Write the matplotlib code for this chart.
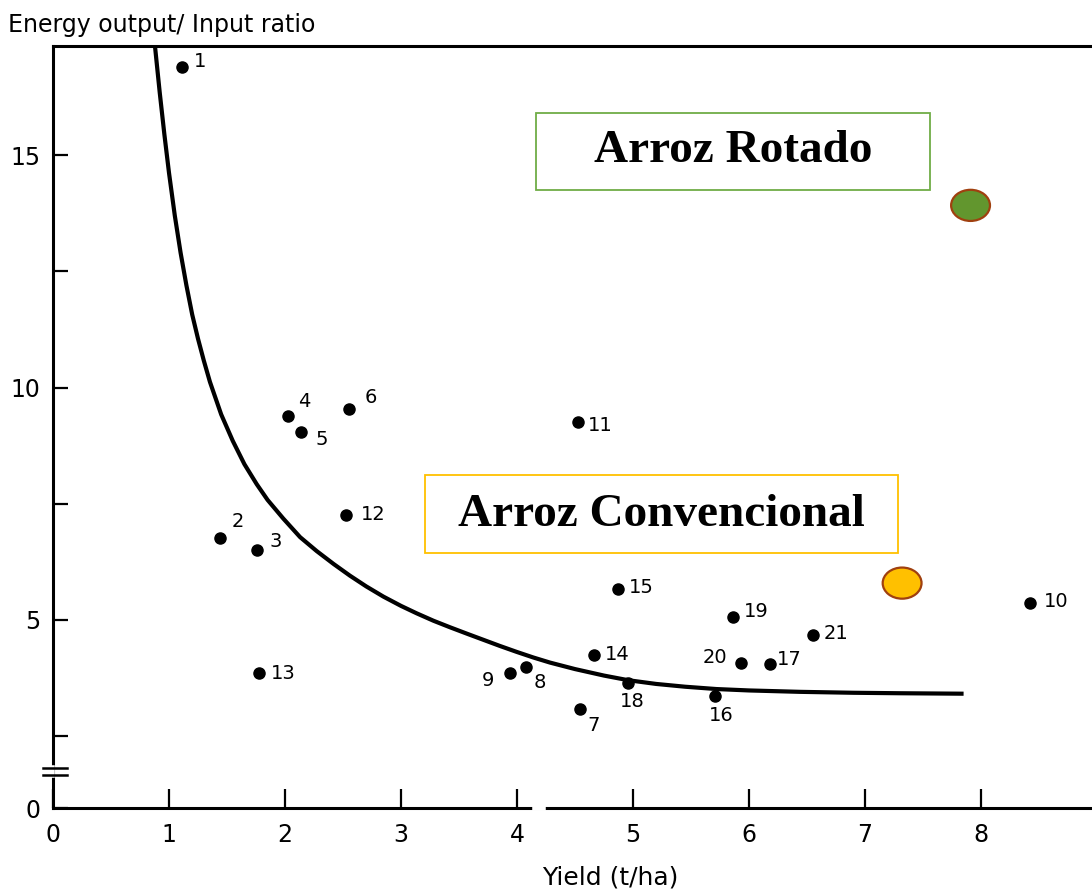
import matplotlib.pyplot as plt
from matplotlib import font_manager
from matplotlib.patches import Ellipse, Rectangle

# farms: yield (t/ha) vs energy output/input ratio
farm_ids = ['1', '2', '3', '4', '5', '6', '7', '8', '9', '10', '11',
            '12', '13', '14', '15', '16', '17', '18', '19', '20', '21']
yield_tha = [1.11, 1.44, 1.76, 2.03, 2.14, 2.55, 4.54, 4.08, 3.94, 8.42, 4.53,
             2.53, 1.78, 4.66, 4.87, 5.71, 6.18, 4.96, 5.86, 5.93, 6.55]
energy_ratio = [16.90, 6.76, 6.50, 9.38, 9.04, 9.54, 3.08, 3.99, 3.85, 5.36, 9.25,
                7.26, 3.85, 4.25, 5.66, 3.35, 4.05, 3.65, 5.06, 4.07, 4.68]

# hand-drawn trend curve
curve_yield = [0.879, 0.92, 0.96, 1.00, 1.05, 1.10, 1.15, 1.20, 1.25, 1.30,
               1.353, 1.45, 1.55, 1.65, 1.756, 1.85, 1.985, 2.13, 2.273, 2.42,
               2.56, 2.70, 2.848, 3.0, 3.135, 3.28, 3.422, 3.57, 3.71, 3.85,
               3.997, 4.14, 4.284, 4.5, 4.75, 4.96, 5.2, 5.45, 5.72, 6.0,
               6.44, 6.9, 7.3, 7.85]
curve_ratio = [17.35, 16.35, 15.45, 14.62, 13.70, 12.90, 12.20, 11.57, 11.05, 10.58,
               10.12, 9.42, 8.85, 8.35, 7.92, 7.58, 7.18, 6.78, 6.48, 6.20,
               5.95, 5.72, 5.50, 5.30, 5.14, 4.98, 4.84, 4.70, 4.57, 4.44,
               4.31, 4.19, 4.08, 3.94, 3.80, 3.70, 3.62, 3.56, 3.51, 3.48,
               3.45, 3.43, 3.42, 3.41]

# rice systems
rotado_pt = (7.91, 13.92)
convencional_pt = (7.32, 5.79)

x_ticks = [0, 1, 2, 3, 4, 5, 6, 7, 8]
y_ticks = [0.95, 2.5, 5, 7.5, 10, 12.5, 15]
y_tick_labels = ['0', '', '5', '', '10', '', '15']

# label offsets in points (dx, dy)
label_offsets = {
    '1': (13, 4), '2': (13, 12), '3': (13, 6), '4': (11, 11), '5': (15, -5),
    '6': (16, 8), '7': (10, -12), '8': (10, -11), '9': (-16, -5), '10': (19, 1),
    '11': (16, -2), '12': (19, 0), '13': (17, 0), '14': (17, 0), '15': (17, 1),
    '16': (4, -14), '17': (14, 3), '18': (3, -14), '19': (17, 4), '20': (-19, 4),
    '21': (17, 1),
}

names = {f.name for f in font_manager.fontManager.ttflist}
sans = 'Liberation Sans Narrow' if 'Liberation Sans Narrow' in names else 'DejaVu Sans'

fig = plt.figure(figsize=(10.92, 8.91), dpi=100)
ax = fig.add_axes([53 / 1092, 83 / 891, 1039 / 1092, 762 / 891])
ax.set_xlim(0, 8.957)
ax.set_ylim(0.95, 17.35)

for s in ['top', 'left', 'bottom']:
    ax.spines[s].set_linewidth(2.2)
ax.spines['right'].set_visible(False)

ax.set_xticks(x_ticks)
ax.set_yticks(y_ticks)
ax.set_yticklabels(y_tick_labels)
ax.tick_params(axis='x', direction='in', length=14, width=1.6, pad=11, labelsize=17)
ax.tick_params(axis='y', direction='in', length=11, width=1.6, pad=9, labelsize=17)
for lab in ax.get_xticklabels() + ax.get_yticklabels():
    lab.set_family(sans)

# curve and points
ax.plot(curve_yield, curve_ratio, color='black', lw=3, solid_capstyle='butt',
        solid_joinstyle='round')
ax.plot(yield_tha, energy_ratio, 'o', color='black', ms=8, ls='none')
for fid, x, y in zip(farm_ids, yield_tha, energy_ratio):
    ax.annotate(fid, (x, y), xytext=label_offsets[fid], textcoords='offset points',
                ha='center', va='center', fontsize=14, family=sans)

# break marks on the axes
ax.plot([-0.01, -0.01], [1.66, 1.81], color='white', lw=4, clip_on=False, zorder=5)
ax.plot([-0.086, 0.121], [1.66, 1.66], color='black', lw=1.8, clip_on=False, zorder=6)
ax.plot([-0.086, 0.121], [1.81, 1.81], color='black', lw=1.8, clip_on=False, zorder=6)
ax.plot([4.155, 4.224], [0.95, 0.95], color='white', lw=4, clip_on=False, zorder=5)

# annotation boxes
ax.add_patch(Rectangle((4.164, 14.25), 3.396, 1.66, fill=False,
                       edgecolor='#70AD47', lw=1.3))
ax.text(5.862, 15.08, 'Arroz Rotado', ha='center', va='center',
        family='Liberation Serif', weight='bold', fontsize=34)
ax.add_patch(Rectangle((3.207, 6.44), 4.077, 1.685, fill=False,
                       edgecolor='#FFC000', lw=1.3))
ax.text(5.246, 7.26, 'Arroz Convencional', ha='center', va='center',
        family='Liberation Serif', weight='bold', fontsize=34)

ax.add_patch(Ellipse(rotado_pt, 0.335, 0.67, facecolor='#62962E',
                     edgecolor='#A0400F', lw=1.6, zorder=4))
ax.add_patch(Ellipse(convencional_pt, 0.335, 0.67, facecolor='#FFC000',
                     edgecolor='#A0400F', lw=1.6, zorder=4))

fig.text(8 / 1092, 1 - 25 / 891, 'Energy output/ Input ratio', ha='left', va='center',
         fontsize=17, family=sans)
fig.text(610 / 1092, 1 - 877 / 891, 'Yield (t/ha)', ha='center', va='center',
         fontsize=18, family=sans)

fig.savefig('out.png', dpi=100)
